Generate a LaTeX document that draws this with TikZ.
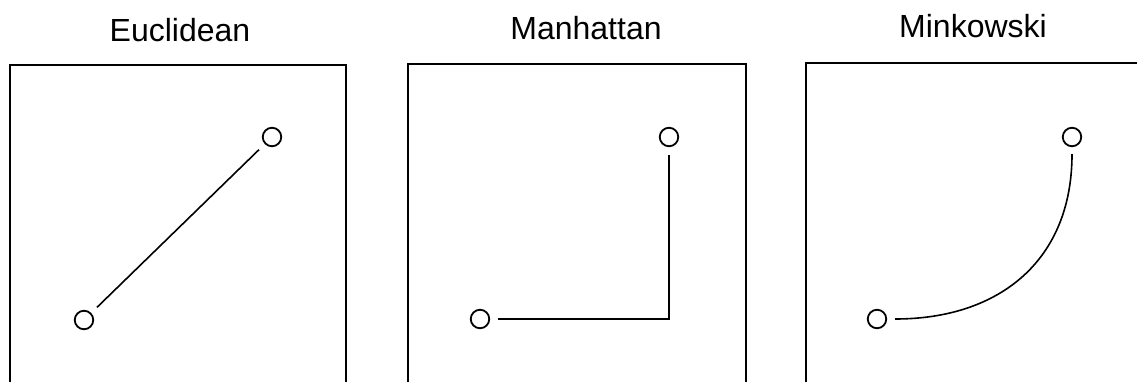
\documentclass[tikz,border=0pt]{standalone}
\usepackage{fontspec}
\setmainfont{Liberation Sans}
\begin{document}
\begin{tikzpicture}[x=1pt,y=-1pt,
  frame/.style={line width=1.9pt, line cap=rect},
  pt/.style={circle, draw, line width=1.8pt, minimum size=18.5pt, inner sep=0pt},
  conn/.style={line width=1.6pt, shorten <=8pt, shorten >=8pt},
  title/.style={font=\fontsize{32}{38}\selectfont, anchor=base}]
\useasboundingbox (0,0) rectangle (1137,382);
% frames
\draw[frame] (10,382) -- (10,65) -- (346,65) -- (346,382);
\draw[frame] (408,382) -- (408,64) -- (746,64) -- (746,382);
\draw[frame] (806,382) -- (806,63) -- (1140,63);
% titles
\node[title] (t1) at (180,42) {Euclidean};
\node[title] (t2) at (586,40) {Manhattan};
\node[title] (t3) at (973,38) {Minkowski};
% Euclidean
\node[pt] (e1) at (84,320) {};
\node[pt] (e2) at (272,137) {};
\draw[conn] (e1) -- (e2);
% Manhattan
\node[pt] (m1) at (480,319) {};
\node[pt] (m2) at (669,137) {};
\draw[conn] (m1) -- (m1 -| m2) -- (m2);
% Minkowski
\node[pt] (k1) at (877,319) {};
\node[pt] (k2) at (1072,137) {};
\draw[line width=1.6pt] ([xshift=8pt]k1.east) .. controls (1000,319) and (1072,260) .. ([yshift=-7pt]k2.south);
\end{tikzpicture}
\end{document}
